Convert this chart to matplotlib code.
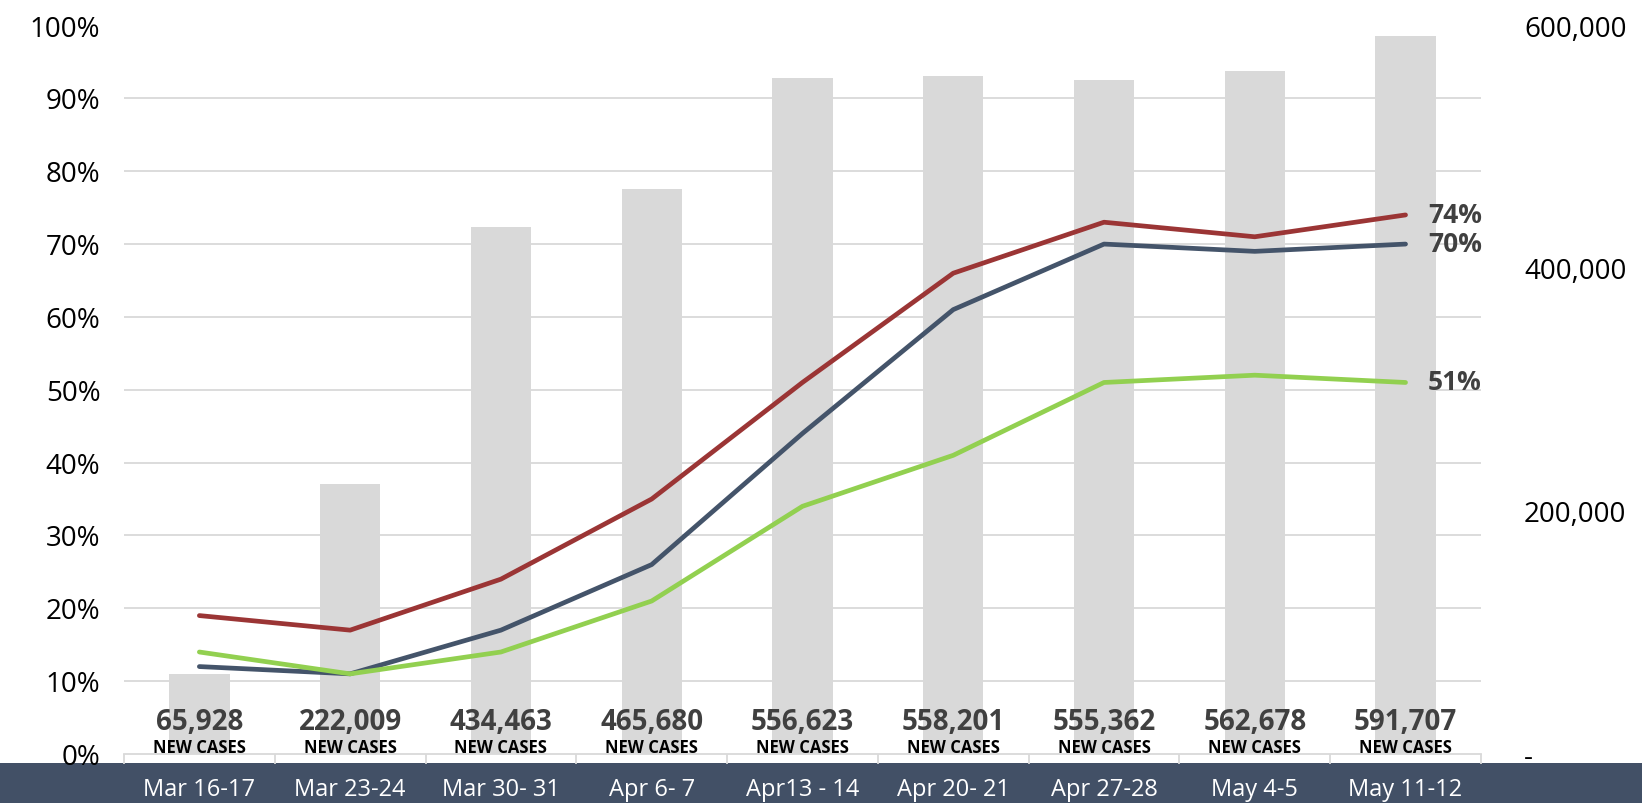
import matplotlib.pyplot as plt
from matplotlib.patches import Rectangle
from matplotlib.transforms import blended_transform_factory
from matplotlib.ticker import FuncFormatter, PercentFormatter
import numpy as np

plt.rcParams["font.family"] = ["Open Sans", "DejaVu Sans"]

weeks = ["Mar 16-17", "Mar 23-24", "Mar 30- 31", "Apr 6- 7", "Apr13 - 14",
         "Apr 20- 21", "Apr 27-28", "May 4-5", "May 11-12"]
new_cases = [65928, 222009, 434463, 465680, 556623, 558201, 555362, 562678, 591707]

red_series = [19, 17, 24, 35, 51, 66, 73, 71, 74]
navy_series = [12, 11, 17, 26, 44, 61, 70, 69, 70]
green_series = [14, 11, 14, 21, 34, 41, 51, 52, 51]

BAND = "#425066"
GRID = "#d9d9d9"
LABEL = "#404040"

fig = plt.figure(figsize=(16.42, 8.035), dpi=100)
fig.patches.append(Rectangle((0, 0), 1, 0.0498, transform=fig.transFigure,
                             facecolor=BAND, edgecolor="none", zorder=-1))

ax = fig.add_axes([0.0755, 0.061, 0.8264, 0.9066])
ax2 = ax.twinx()
ax.set_zorder(ax2.get_zorder() + 1)
ax.patch.set_visible(False)

x = np.arange(len(weeks))

# bars: new cases on the right axis, grid every 10% drawn behind them
ax2.bar(x, new_cases, width=0.4, color="#d9d9d9", zorder=2)
ax2.set_ylim(0, 600000)
ax2.set_yticks([0, 200000, 400000, 600000])
ax2.set_yticks(np.arange(0, 600001, 60000), minor=True)
ax2.yaxis.set_major_formatter(FuncFormatter(lambda v, p: "-" if v == 0 else f"{v:,.0f}"))
ax2.set_axisbelow(True)
ax2.grid(axis="y", which="minor", color=GRID, linewidth=1.3)
ax2.tick_params(axis="y", which="both", length=0, labelsize=20, pad=31)

# lines on the percent axis
ax.plot(x, red_series, color="#9b3535", linewidth=3.4, solid_capstyle="round")
ax.plot(x, navy_series, color="#44546a", linewidth=3.4, solid_capstyle="round")
ax.plot(x, green_series, color="#92d050", linewidth=3.4, solid_capstyle="round")

for series in (red_series, navy_series, green_series):
    ax.text(x[-1] + 0.15, series[-1], f"{series[-1]}%", ha="left", va="center",
            fontsize=19, fontweight="bold", color=LABEL)

ax.set_ylim(0, 100)
ax.set_xlim(-0.5, len(weeks) - 0.5)
ax.set_yticks(np.arange(0, 101, 10))
ax.yaxis.set_major_formatter(PercentFormatter(decimals=0))
ax.tick_params(axis="y", length=0, labelsize=20, pad=17)

ax.set_xticks(np.arange(-0.5, len(weeks), 1))
ax.set_xticklabels([])
ax.tick_params(axis="x", length=7, color=GRID, width=1.3)
ax2.tick_params(axis="x", length=0)

for a in (ax, ax2):
    for side in ("top", "left", "right", "bottom"):
        a.spines[side].set_visible(False)
ax.spines["bottom"].set_visible(True)
ax.spines["bottom"].set_color(GRID)
ax.spines["bottom"].set_linewidth(1.3)

# case counts under each bar
for i, n in enumerate(new_cases):
    ax.text(i, 4.4, f"{n:,}", ha="center", va="center", fontsize=20,
            fontweight="bold", color=LABEL)
    ax.text(i, 0.9, "NEW CASES", ha="center", va="center", fontsize=12,
            fontweight="bold", color="black")

# week labels in the dark band
trans = blended_transform_factory(ax.transData, fig.transFigure)
for i, w in enumerate(weeks):
    ax.text(i, 0.017, w, transform=trans, ha="center", va="center",
            fontsize=17, color="white", clip_on=False)

fig.savefig("out.png", dpi=100)
